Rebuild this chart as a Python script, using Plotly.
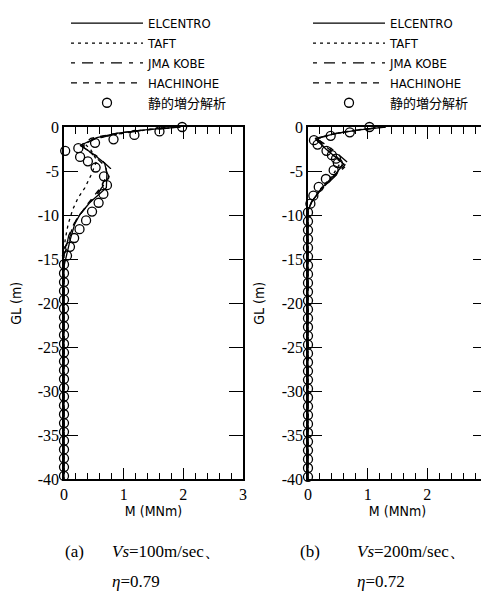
import plotly.graph_objects as go

# ---------------- data ----------------
series_names = ["ELCENTRO", "TAFT", "JMA KOBE", "HACHINOHE"]
static_name = "静的増分解析"

# (a) Vs=100m/sec
el_a_M = [1.95, 1.4, 0.9, 0.55, 0.27, 0.48, 0.68, 0.72, 0.71, 0.43, 0.27, 0.18, 0.10, 0.04, 0.0, 0.0]
el_a_GL = [0, -0.3, -0.7, -1.2, -2.1, -3.0, -4.1, -5.2, -6.9, -8.6, -9.9, -11.0, -12.9, -14.7, -15.8, -40]
taft_a_M = [1.7, 1.2, 0.8, 0.5, 0.35, 0.45, 0.55, 0.45, 0.35, 0.24, 0.15, 0.07, 0.02, 0.0, 0.0]
taft_a_GL = [0, -0.5, -0.9, -1.4, -1.9, -2.6, -3.8, -5.5, -6.9, -8.0, -9.3, -11.0, -12.8, -14.0, -40]
jma_a_M = [1.95, 1.3, 0.8, 0.5, 0.3, 0.55, 0.78, 0.75, 0.6, 0.4, 0.2, 0.08, 0.02, 0.0, 0.0]
jma_a_GL = [0, -0.4, -0.9, -1.4, -2.2, -3.3, -4.7, -5.8, -7.2, -8.8, -10.5, -12.3, -14.2, -15.5, -40]
hach_a_M = [1.9, 1.3, 0.8, 0.45, 0.3, 0.5, 0.7, 0.72, 0.6, 0.4, 0.2, 0.08, 0.0, 0.0]
hach_a_GL = [0, -0.35, -0.8, -1.3, -2.0, -3.2, -4.5, -5.5, -7.0, -8.7, -10.6, -12.5, -14.5, -40]
static_a_M = [1.98, 1.6, 1.18, 0.83, 0.52, 0.24, 0.02, 0.27, 0.40, 0.53, 0.67, 0.72, 0.66, 0.58,
              0.47, 0.37, 0.26, 0.17, 0.10, 0.05, 0.0,
              0.0, 0.0, 0.0, 0.0, 0.0, 0.0, 0.0, 0.0, 0.0, 0.0, 0.0, 0.0,
              0.0, 0.0, 0.0, 0.0, 0.0, 0.0, 0.0, 0.0, 0.0, 0.0, 0.0, 0.0]
static_a_GL = [0.0, -0.5, -0.9, -1.4, -1.8, -2.4, -2.7, -3.4, -3.9, -4.6, -5.6, -6.6, -7.6, -8.6,
               -9.6, -10.6, -11.6, -12.6, -13.6, -14.6, -15.6,
               -16.6, -17.6, -18.6, -19.6, -20.6, -21.6, -22.6, -23.6, -24.6, -25.6, -26.6, -27.6,
               -28.6, -29.6, -30.6, -31.6, -32.6, -33.6, -34.6, -35.6, -36.6, -37.6, -38.6, -39.6]

# (b) Vs=200m/sec
el_b_M = [1.3, 0.9, 0.5, 0.12, 0.3, 0.6, 0.45, 0.22, 0.06, 0.0, 0.0]
el_b_GL = [0, -0.3, -0.7, -1.3, -2.5, -4.2, -5.4, -7.0, -8.5, -9.5, -40]
taft_b_M = [1.25, 0.85, 0.45, 0.13, 0.32, 0.55, 0.42, 0.2, 0.05, 0.0, 0.0]
taft_b_GL = [0, -0.3, -0.75, -1.4, -2.6, -4.0, -5.4, -7.1, -8.6, -9.6, -40]
jma_b_M = [1.3, 0.9, 0.5, 0.14, 0.38, 0.68, 0.5, 0.25, 0.07, 0.0, 0.0]
jma_b_GL = [0, -0.3, -0.7, -1.3, -2.4, -4.1, -5.3, -6.9, -8.4, -9.5, -40]
hach_b_M = [1.28, 0.88, 0.48, 0.13, 0.35, 0.62, 0.47, 0.23, 0.06, 0.0, 0.0]
hach_b_GL = [0, -0.3, -0.7, -1.35, -2.5, -4.3, -5.4, -7.0, -8.5, -9.5, -40]
static_b_M = [1.03, 0.70, 0.38, 0.10, 0.16, 0.31, 0.40, 0.47, 0.50, 0.43, 0.30, 0.18, 0.09, 0.04,
              0.0, 0.0, 0.0, 0.0, 0.0, 0.0, 0.0, 0.0, 0.0, 0.0, 0.0, 0.0, 0.0, 0.0, 0.0, 0.0,
              0.0, 0.0, 0.0, 0.0, 0.0, 0.0, 0.0, 0.0, 0.0, 0.0, 0.0, 0.0, 0.0, 0.0, 0.0]
static_b_GL = [0.0, -0.6, -1.0, -1.5, -2.0, -2.7, -3.2, -3.6, -4.1, -4.9, -5.9, -6.8, -7.8, -8.7,
               -9.7, -10.7, -11.7, -12.7, -13.7, -14.7, -15.7, -16.7, -17.7, -18.7, -19.7, -20.7,
               -21.7, -22.7, -23.7, -24.7, -25.7, -26.7, -27.7, -28.7, -29.7, -30.7, -31.7, -32.7,
               -33.7, -34.7, -35.7, -36.7, -37.7, -38.7, -39.7]

x_tick_vals = [0, 1, 2, 3]
y_tick_vals = [0, -5, -10, -15, -20, -25, -30, -35, -40]
y_tick_text = ["0", "-5", "-10", "-15", "-20", "-25", "-30", "-35", "-40"]
captions = [("(a)", "<i>Vs</i>=100m/sec、", "<i>η</i>=0.79"),
            ("(b)", "<i>Vs</i>=200m/sec、", "<i>η</i>=0.72")]

# ---------------- style ----------------
FONT = "Liberation Serif, DejaVu Serif, serif"
NARROW = "Liberation Sans Narrow, DejaVu Sans Condensed, Liberation Sans, sans-serif"
CJK = "Noto Sans CJK JP"
dashes = ["solid", "3px,4px", "4px,7px,11px,7px", "6px,6px"]
W, H = 489, 603
OFF = 8  # page body margin

fig = go.Figure()

panels = [
    ("x", "y", "legend",
     [(el_a_M, el_a_GL), (taft_a_M, taft_a_GL), (jma_a_M, jma_a_GL), (hach_a_M, hach_a_GL)],
     (static_a_M, static_a_GL)),
    ("x2", "y2", "legend2",
     [(el_b_M, el_b_GL), (taft_b_M, taft_b_GL), (jma_b_M, jma_b_GL), (hach_b_M, hach_b_GL)],
     (static_b_M, static_b_GL)),
]

for xa, ya, lg, lines, stat in panels:
    for name, dash, (m, gl) in zip(series_names, dashes, lines):
        fig.add_trace(go.Scatter(x=m, y=gl, mode="lines", name=name, xaxis=xa, yaxis=ya,
                                 legend=lg, line=dict(color="black", width=1.3, dash=dash),
                                 cliponaxis=False))
    fig.add_trace(go.Scatter(x=stat[0], y=stat[1], mode="markers", name=static_name,
                             xaxis=xa, yaxis=ya, legend=lg, cliponaxis=False,
                             marker=dict(symbol="circle-open", size=9, color="black",
                                         line=dict(width=1.3, color="black"))))

def px_x(p):
    return (p - OFF) / W

def px_y(p):
    return 1 - (p - OFF) / H

xdoms = [[px_x(64), px_x(243)], [px_x(308), px_x(487)]]
ydom = [px_y(477), px_y(118)]

axis_common = dict(showgrid=False, zeroline=False, showline=True, linecolor="black",
                   linewidth=1.5, mirror="allticks", ticks="inside", tickcolor="black",
                   tickwidth=1.2, automargin=False,
                   tickfont=dict(family=FONT, size=16, color="black"))

for i, xd in enumerate(xdoms):
    sfx = "" if i == 0 else str(i + 1)
    fig.update_layout(**{
        "xaxis" + sfx: dict(axis_common, domain=xd, range=[0, 3], tickvals=x_tick_vals,
                            ticklen=12, anchor="y" + sfx,
                            minor=dict(dtick=0.2, ticks="inside", ticklen=7,
                                       tickcolor="black", tickwidth=1.0),
                            title=dict(text="M (MNm)", standoff=3,
                                       font=dict(family=NARROW, size=14, color="black"))),
        "yaxis" + sfx: dict(axis_common, domain=ydom, range=[-40, 0], tickvals=y_tick_vals,
                            ticktext=y_tick_text, ticklen=14, anchor="x" + sfx,
                            title=dict(text="GL (m)", standoff=14,
                                       font=dict(family=NARROW, size=14, color="black"))),
    })

legend_common = dict(font=dict(family=NARROW + ", " + CJK, size=13, color="black"),
                     bgcolor="rgba(0,0,0,0)", itemwidth=72, tracegroupgap=0,
                     xanchor="left", yanchor="top", itemclick=False)
fig.update_layout(
    legend=dict(legend_common, x=58 / W, y=1 + 11 / H),
    legend2=dict(legend_common, x=300 / W, y=1 + 11 / H),
)

ann = []
for (lab, l1, l2), (xl, xt) in zip(captions, [(63, 110), (298, 355)]):
    f = dict(family=FONT, size=17, color="black")
    ann.append(dict(text=lab, x=px_x(xl), y=px_y(550), xref="paper", yref="paper",
                    xanchor="left", yanchor="middle", showarrow=False, font=f))
    ann.append(dict(text=l1, x=px_x(xt), y=px_y(550), xref="paper", yref="paper",
                    xanchor="left", yanchor="middle", showarrow=False, font=f))
    ann.append(dict(text=l2, x=px_x(xt), y=px_y(581), xref="paper", yref="paper",
                    xanchor="left", yanchor="middle", showarrow=False, font=f))

fig.update_layout(width=W, height=H, margin=dict(l=0, r=0, t=0, b=0),
                  paper_bgcolor="white", plot_bgcolor="white", showlegend=True,
                  annotations=ann)

fig.write_html("out.html")
